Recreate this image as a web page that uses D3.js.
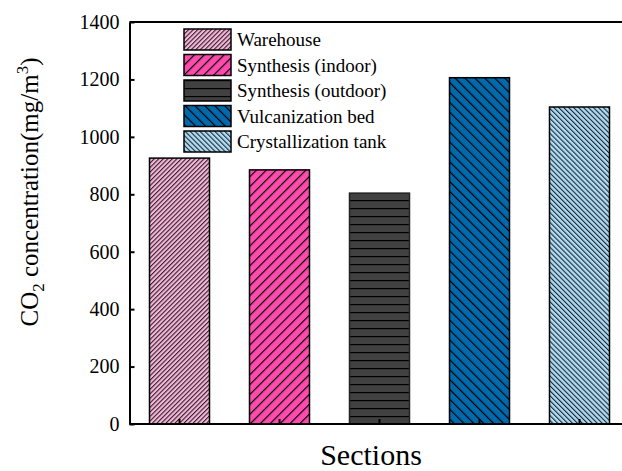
<!DOCTYPE html>
<meta charset="utf-8">
<title>CO2 concentration by section</title>
<style>
body { margin: 0; background: #fff; }
.axis path, .axis line { stroke: #000; stroke-width: 2; }
</style>
<body>
<script src="https://cdn.jsdelivr.net/npm/d3@7"></script>
<script>
'use strict';

// values
const sections = ["Warehouse", "Synthesis (indoor)", "Synthesis (outdoor)", "Vulcanization bed", "Crystallization tank"];
const values = [926, 885, 804, 1206, 1104];
const yTicks = [0, 200, 400, 600, 800, 1000, 1200, 1400];

// fill colour + hatch style per section
const fills = ["#f7b6da", "#ff4bae", "#414141", "#006aad", "#aedcf6"];
const hatches = [
  {angle: 45, gap: 3.2, lw: 0.9},
  {angle: 45, gap: 7, lw: 1.2},
  {angle: 90, gap: 8, lw: 1.2},
  {angle: -45, gap: 7, lw: 1.2},
  {angle: -45, gap: 3.5, lw: 0.9}
];

const serif = "'Liberation Serif'";
const W = 622, H = 471;
const margin = {top: 22, left: 129.5, bottom: 47};

const svg = d3.select("body").append("svg")
    .attr("width", W)
    .attr("height", H)
    .style("display", "block");

const defs = svg.append("defs");
hatches.forEach(function(h, i) {
  const p = defs.append("pattern")
      .attr("id", "hatch" + i)
      .attr("patternUnits", "userSpaceOnUse")
      .attr("width", h.gap)
      .attr("height", h.gap)
      .attr("patternTransform", "rotate(" + h.angle + ")");
  p.append("rect")
      .attr("width", h.gap).attr("height", h.gap)
      .attr("fill", fills[i]);
  p.append("line")
      .attr("x1", 0.6).attr("y1", 0)
      .attr("x2", 0.6).attr("y2", h.gap)
      .attr("stroke", "#000")
      .attr("stroke-width", h.lw);
});

const x = d3.scaleBand()
    .domain(sections)
    .range([margin.left, margin.left + 500])
    .paddingInner(0.4)
    .paddingOuter(0.2);

const y = d3.scaleLinear()
    .domain([0, 1400])
    .range([H - margin.bottom, margin.top]);

// bars
svg.append("g").selectAll("rect")
    .data(values)
  .enter().append("rect")
    .attr("x", (d, i) => x(sections[i]))
    .attr("y", (d) => y(d))
    .attr("width", x.bandwidth())
    .attr("height", (d) => y(0) - y(d))
    .attr("fill", (d, i) => "url(#hatch" + i + ")")
    .attr("stroke", (d, i) => i === 2 ? "#222" : "#000")
    .attr("stroke-width", 1.5);

// top frame line
svg.append("line")
    .attr("x1", margin.left).attr("x2", W + 10)
    .attr("y1", y(1400)).attr("y2", y(1400))
    .attr("stroke", "#000").attr("stroke-width", 2);

// axes
const xAxis = svg.append("g")
    .attr("class", "axis")
    .attr("transform", "translate(0," + y(0) + ")")
    .call(d3.axisBottom(x).tickSize(-5).tickSizeOuter(0).tickFormat(""));
xAxis.select(".domain").attr("d", "M" + margin.left + ",0H" + (W + 10));

const yAxis = svg.append("g")
    .attr("class", "axis")
    .attr("transform", "translate(" + margin.left + ",0)")
    .call(d3.axisLeft(y).tickValues(yTicks).tickFormat(d3.format("d"))
      .tickSize(-5).tickSizeOuter(0).tickPadding(10));
yAxis.selectAll("text")
    .attr("font-family", serif)
    .attr("font-size", 20)
    .attr("fill", "#000");

// axis titles
svg.append("text")
    .attr("x", 371)
    .attr("y", 465)
    .attr("text-anchor", "middle")
    .attr("font-family", serif)
    .attr("font-size", 30)
    .text("Sections");

const yt = svg.append("text")
    .attr("transform", "translate(38,192) rotate(-90)")
    .attr("text-anchor", "middle")
    .attr("font-family", serif)
    .attr("font-size", 25);
yt.append("tspan").text("CO");
yt.append("tspan").attr("font-size", 17).attr("dy", 6).text("2");
yt.append("tspan").attr("dy", -6).text(" concentration(mg/m");
yt.append("tspan").attr("font-size", 17).attr("dy", -10).text("3");
yt.append("tspan").attr("dy", 10).text(")");

// legend
const legend = svg.append("g").selectAll("g")
    .data(sections)
  .enter().append("g")
    .attr("transform", (d, i) => "translate(184," + (29 + i * 25.5) + ")");

legend.append("rect")
    .attr("width", 47)
    .attr("height", 21)
    .attr("fill", (d, i) => "url(#hatch" + i + ")")
    .attr("stroke", "#000")
    .attr("stroke-width", 1.5);

legend.append("text")
    .attr("x", 53)
    .attr("y", 17)
    .attr("font-family", serif)
    .attr("font-size", 19)
    .text((d) => d);
</script>
</body>
